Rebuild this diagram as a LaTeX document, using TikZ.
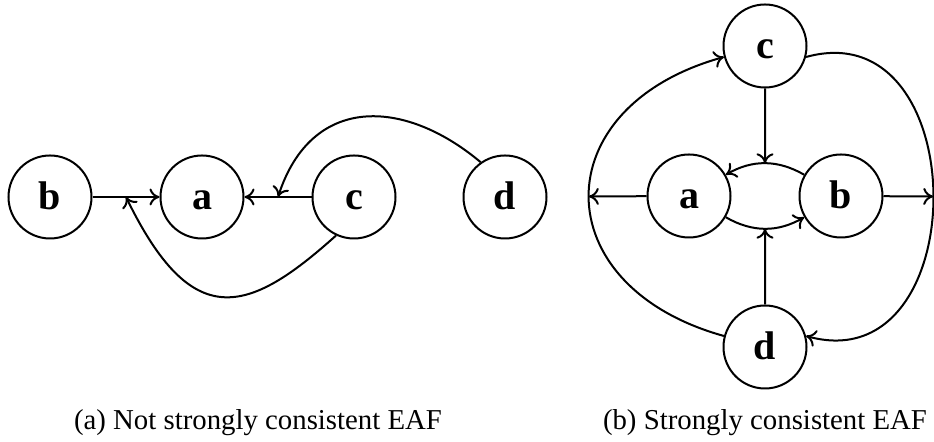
\documentclass[tikz,border=0pt]{standalone}
\usepackage{fontspec}
\setmainfont{Liberation Serif}
\usetikzlibrary{arrows.meta}
\begin{document}
\begin{tikzpicture}[x=0.5pt,y=0.5pt,
  arg/.style={circle,draw,line width=1pt,minimum size=41.5pt,inner sep=0pt,
    text height=13pt,text depth=0pt,
    font=\fontsize{20}{24}\selectfont\bfseries},
  att/.style={line width=1pt,-{To[length=5pt,width=8.5pt]}},
  captext/.style={font=\fontsize{14.4}{17}\selectfont,anchor=base}]
\useasboundingbox (0,0) rectangle (934,442);
% (a)
\node[arg] (b1) at (50,245) {b};
\node[arg] (a1) at (202,245) {a};
\node[arg] (c1) at (354,245) {c};
\node[arg] (d1) at (505,245) {d};
\draw[att] (b1) -- coordinate[pos=0.5] (lb) (a1);
\draw[att] (c1) -- coordinate[pos=0.5] (lc) (a1);
\draw[att] (d1.125) .. controls +(140:100) and +(72:108) .. (lc);
\draw[att] (c1.245) .. controls +(222:120) and +(-64:150) .. (lb);
\node[captext] (capa) at (258,12) {(a) Not strongly consistent EAF};
% (b)
\node[arg] (c2) at (765,396) {c};
\node[arg] (a2) at (689,246) {a};
\node[arg] (b2) at (841,246) {b};
\node[arg] (d2) at (765,95) {d};
\draw[att] (b2) to[bend right=30] coordinate[pos=0.5] (mt) (a2);
\draw[att] (a2) to[bend right=30] coordinate[pos=0.5] (mb) (b2);
\draw[att] (c2) -- (mt);
\draw[att] (d2) -- (mb);
\draw[att] (d2.165) .. controls +(164.5:187) and +(195.5:187) .. coordinate[pos=0.5] (lm) (c2.195);
\draw[att] (c2.-15) .. controls +(15.5:176) and +(-15.5:176) .. coordinate[pos=0.5] (rm) (d2.15);
\draw[att] (a2) -- (lm);
\draw[att] (b2) -- (rm);
\node[captext] (capb) at (765,12) {(b) Strongly consistent EAF};
\end{tikzpicture}
\end{document}
